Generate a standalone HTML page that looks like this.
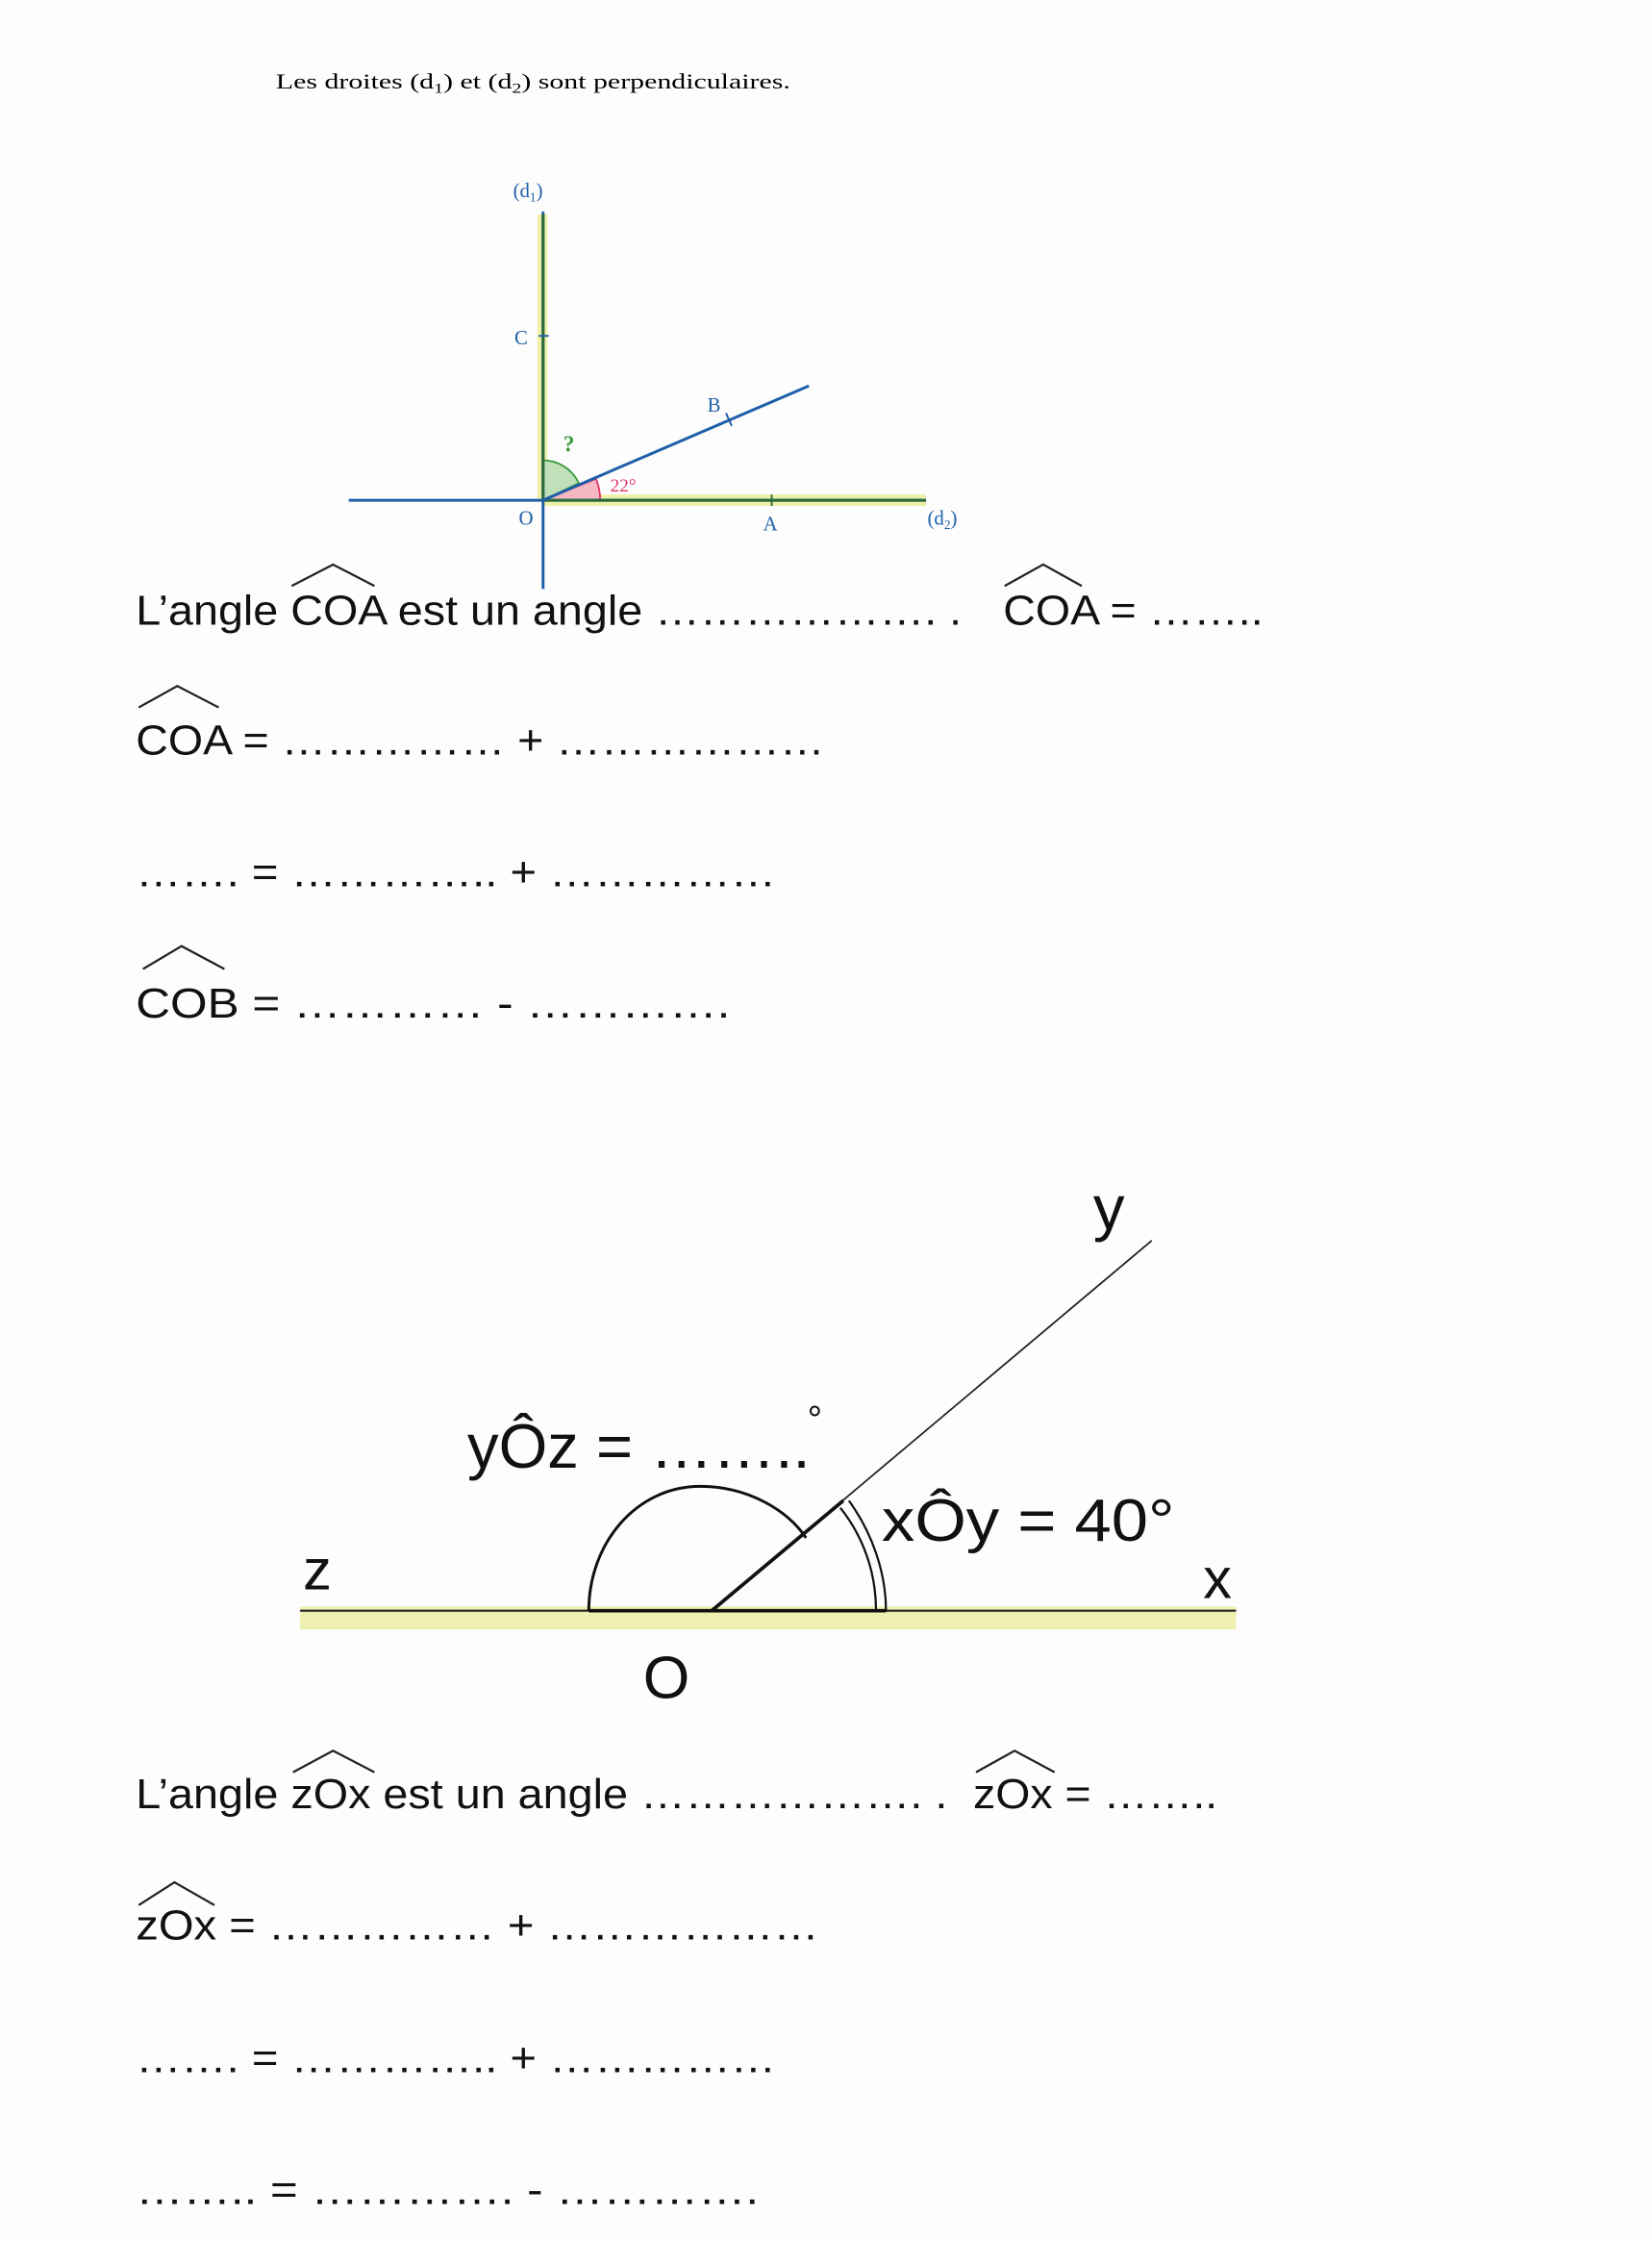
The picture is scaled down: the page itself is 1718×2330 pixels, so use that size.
<!DOCTYPE html>
<html><head><meta charset="utf-8"><style>html,body{margin:0;padding:0;background:#fff}svg{display:block}</style></head>
<body>
<svg width="1718" height="2330" viewBox="0 0 1156 1568" xmlns="http://www.w3.org/2000/svg">
<rect width="1156" height="1568" fill="#fdfdfd"/>
<text x="193" y="62" font-family="Liberation Serif, serif" font-size="15" textLength="360" lengthAdjust="spacingAndGlyphs">Les droites (d<tspan font-size="10" dy="3">1</tspan><tspan dy="-3">)  et  (d</tspan><tspan font-size="10" dy="3">2</tspan><tspan dy="-3">)  sont  perpendiculaires.</tspan></text>

<!-- top diagram -->
<rect x="376" y="150" width="7" height="200" fill="#eef0a8"/>
<rect x="380" y="346" width="268" height="8" fill="#eef0a8"/>
<path d="M380,350 L380,322 A28,28 0 0 1 405,338 Z" fill="#bfe0b8" stroke="#3a9a3a" stroke-width="1.2"/>
<path d="M380,350 L417,335 A40,40 0 0 1 420,350 Z" fill="#f5b8c0" stroke="#e0306a" stroke-width="1.2"/>
<line x1="380" y1="148" x2="380" y2="412" stroke="#1f5fa8" stroke-width="2"/>
<line x1="380" y1="150" x2="380" y2="350" stroke="#2c6a3a" stroke-width="2"/>
<line x1="244" y1="350" x2="648" y2="350" stroke="#1f5fa8" stroke-width="2"/>
<line x1="380" y1="350" x2="648" y2="350" stroke="#2c6a3a" stroke-width="2"/>
<line x1="380" y1="350" x2="566" y2="270" stroke="#1f5fa8" stroke-width="2"/>
<line x1="377" y1="235" x2="384" y2="235" stroke="#1f5fa8" stroke-width="1.3"/>
<line x1="540" y1="346" x2="540" y2="354" stroke="#2c6a3a" stroke-width="1.3"/>
<line x1="508" y1="289" x2="512" y2="298" stroke="#1f5fa8" stroke-width="1.3"/>
<g font-family="Liberation Serif, serif" font-size="14" fill="#1f5fa8">
<text x="359" y="138">(d<tspan font-size="9" dy="3">1</tspan><tspan dy="-3">)</tspan></text>
<text x="360" y="241">C</text>
<text x="495" y="288">B</text>
<text x="363" y="367">O</text>
<text x="534" y="371">A</text>
<text x="649" y="367">(d<tspan font-size="9" dy="3">2</tspan><tspan dy="-3">)</tspan></text>
</g>
<text x="394" y="316" font-family="Liberation Serif, serif" font-size="16" font-weight="bold" fill="#3a9a3a">?</text>
<text x="427" y="344" font-family="Liberation Serif, serif" font-size="13" fill="#e0306a">22°</text>

<g font-family="Liberation Sans, sans-serif" font-size="29" fill="#111" stroke="none">
<text x="95" y="437" textLength="578" lengthAdjust="spacingAndGlyphs">L’angle COA est un angle ………………. .</text>
<text x="702" y="437" textLength="182" lengthAdjust="spacingAndGlyphs">COA = ……..</text>
<text x="95" y="528" textLength="482" lengthAdjust="spacingAndGlyphs">COA = …………… + ………………</text>
<text x="95" y="620" textLength="448" lengthAdjust="spacingAndGlyphs">……. = ………….. + ……………</text>
<text x="95" y="712" textLength="416" lengthAdjust="spacingAndGlyphs">COB = ………… -  ………….</text>

<text x="95" y="1265" textLength="568" lengthAdjust="spacingAndGlyphs">L’angle zOx est un angle ………………. .</text>
<text x="681" y="1265" textLength="171" lengthAdjust="spacingAndGlyphs">zOx = ……..</text>
<text x="95" y="1357" textLength="478" lengthAdjust="spacingAndGlyphs">zOx  = …………… + ………………</text>
<text x="95" y="1450" textLength="448" lengthAdjust="spacingAndGlyphs">……. = ………….. + ……………</text>
<text x="95" y="1542" textLength="436" lengthAdjust="spacingAndGlyphs">…….. = …………. -  ………….</text>
</g>
<g fill="none" stroke="#222" stroke-width="1.5">
<path d="M204,410 L233,395 L262,410"/>
<path d="M703,410 L730,395 L757,410"/>
<path d="M97,495 L124,480 L153,495"/>
<path d="M100,678 L127,662 L157,678"/>
<path d="M205,1240 L233,1225 L262,1240"/>
<path d="M683,1240 L710,1225 L738,1240"/>
<path d="M97,1333 L122,1317 L150,1333"/>
</g>

<!-- bottom diagram -->
<rect x="210" y="1124" width="655" height="16" fill="#eef0b0"/>
<line x1="210" y1="1127" x2="865" y2="1127" stroke="#222" stroke-width="1.5"/>
<line x1="412" y1="1127" x2="620" y2="1127" stroke="#111" stroke-width="2.5"/>
<line x1="498" y1="1127" x2="806" y2="868" stroke="#222" stroke-width="1.2"/>
<line x1="498" y1="1127" x2="590" y2="1050" stroke="#111" stroke-width="2.5"/>
<path d="M412,1127 C412,1080 445,1040 490,1040 C525,1040 552,1058 564,1076" fill="none" stroke="#111" stroke-width="2"/>
<path d="M588,1055 C604,1075 613,1100 613,1127" fill="none" stroke="#111" stroke-width="1.5"/>
<path d="M594,1050 C610,1072 620,1100 620,1127" fill="none" stroke="#111" stroke-width="1.5"/>
<g font-family="Liberation Sans, sans-serif" fill="#111">
<text x="765" y="860" font-size="44">y</text>
<text x="212" y="1112" font-size="40">z</text>
<text x="842" y="1118" font-size="40">x</text>
<text x="450" y="1188" font-size="42">O</text>
<text x="327" y="1027" font-size="44" textLength="240" lengthAdjust="spacingAndGlyphs">yÔz = ……..</text>
<text x="565" y="1002" font-size="26">°</text>
<text x="617" y="1078" font-size="42" textLength="205" lengthAdjust="spacingAndGlyphs">xÔy = 40°</text>
</g>
</svg>
</body></html>
